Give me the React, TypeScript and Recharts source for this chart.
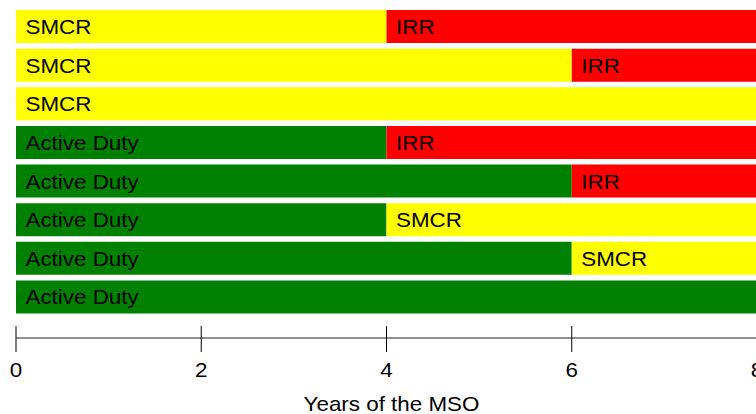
import React from 'react';
import { BarChart, Bar, XAxis, YAxis, Cell, LabelList } from 'recharts';

const rows = ['r1', 'r2', 'r3', 'r4', 'r5', 'r6', 'r7', 'r8'];
const firstPhase = ['SMCR', 'SMCR', 'SMCR', 'Active Duty', 'Active Duty', 'Active Duty', 'Active Duty', 'Active Duty'];
const firstYears = [4, 6, 8, 4, 6, 4, 6, 8];
const secondPhase = ['IRR', 'IRR', '', 'IRR', 'IRR', 'SMCR', 'SMCR', ''];
const secondYears = [4, 2, 0, 4, 2, 4, 2, 0];
const xTicks = [0, 2, 4, 6, 8];
const axisTitle = 'Years of the MSO';

const phaseColors: Record<string, string> = {
  'Active Duty': '#008000',
  SMCR: '#ffff00',
  IRR: '#ff0000',
};

const data = rows.map((row, i) => ({
  row,
  first: firstYears[i],
  firstLabel: firstPhase[i],
  second: secondYears[i],
  secondLabel: secondPhase[i],
}));

const SX = 1.12;
const FONT = '"Liberation Sans", Arial, sans-serif';

function StretchText({ x, y, anchor = 'start', children }: any) {
  return (
    <text
      transform={`translate(${x},${y}) scale(${SX},1)`}
      x={0}
      y={0}
      textAnchor={anchor}
      fontSize={20}
      fontFamily={FONT}
      fill="#000"
    >
      {children}
    </text>
  );
}

const AxisTick = (props: any) => {
  const { x, y, payload } = props;
  return (
    <g>
      <line x1={x} x2={x} y1={y - 12} y2={y + 14} stroke="#000" strokeWidth={1} />
      <StretchText x={x} y={y + 39} anchor="middle">
        {payload.value}
      </StretchText>
    </g>
  );
};

const AxisTitle = (props: any) => {
  const vb = props.viewBox || {};
  return (
    <StretchText x={vb.x + vb.width / 2 + 5} y={vb.y + vb.height - 3} anchor="middle">
      {axisTitle}
    </StretchText>
  );
};

const segLabel = (props: any) => {
  const { x, y, height, value, width } = props;
  if (!value || !width) return null;
  return (
    <StretchText x={Number(x) + 9.5} y={Number(y) + Number(height) / 2 + 7.5}>
      {value}
    </StretchText>
  );
};

export default function App() {
  return (
    <div
      style={{
        position: 'absolute',
        left: 0,
        top: 0,
        width: 756,
        height: 414,
        overflow: 'hidden',
        background: '#fff',
      }}
    >
      <BarChart
        layout="vertical"
        width={758}
        height={414}
        data={data}
        margin={{ top: 7, right: 1, left: 16, bottom: 0 }}
        barSize={33}
      >
        <XAxis
          type="number"
          domain={[0, 8]}
          ticks={xTicks}
          interval={0}
          height={76}
          tickLine={false}
          tickSize={0}
          tickMargin={0}
          axisLine={{ stroke: '#222', strokeWidth: 1 }}
          tick={<AxisTick />}
          label={<AxisTitle />}
          allowDataOverflow
        />
        <YAxis type="category" dataKey="row" hide padding={{ top: 0, bottom: 22 }} />
        <Bar dataKey="first" stackId="a" isAnimationActive={false}>
          {data.map((d) => (
            <Cell key={d.row + 'a'} fill={phaseColors[d.firstLabel]} />
          ))}
          <LabelList dataKey="firstLabel" content={segLabel} />
        </Bar>
        <Bar dataKey="second" stackId="a" isAnimationActive={false}>
          {data.map((d) => (
            <Cell key={d.row + 'b'} fill={phaseColors[d.secondLabel] || '#fff'} />
          ))}
          <LabelList dataKey="secondLabel" content={segLabel} />
        </Bar>
      </BarChart>
    </div>
  );
}
